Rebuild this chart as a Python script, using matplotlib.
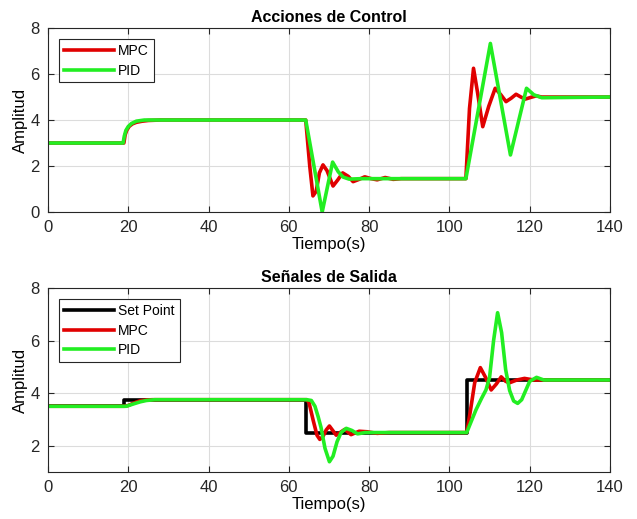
import numpy as np
import matplotlib.pyplot as plt

plt.rcParams['font.family'] = ['Liberation Sans', 'DejaVu Sans']

# ---- Acciones de Control (senal de control) ----
t_u_mpc = [0, 18.9, 19.2, 19.6, 20.2, 21, 22, 23.5, 25, 28, 64.2, 65.2, 66, 66.8, 67.6, 68.5,
           69.5, 71, 72.2, 73.4, 74.8, 76, 77.5, 78.9, 80.5, 82, 84, 86, 88, 104.1, 105, 106,
           107, 108.3, 109.8, 111.4, 112.8, 114.1, 115.4, 116.6, 117.8, 118.9, 120.2, 121.6, 123, 140]
u_mpc = [3, 3, 3.35, 3.55, 3.72, 3.83, 3.9, 3.95, 3.98, 4.0, 4.0, 2.0, 0.7, 0.9, 1.7, 2.05,
         1.8, 1.13, 1.4, 1.7, 1.55, 1.32, 1.42, 1.53, 1.45, 1.4, 1.5, 1.42, 1.45, 1.45, 4.5, 6.25,
         5.2, 3.71, 4.6, 5.38, 5.1, 4.8, 4.95, 5.12, 5.0, 4.91, 4.98, 5.05, 5.0, 5.0]

t_u_pid = [0, 18.7, 19.0, 19.4, 20.0, 20.8, 22, 24, 26, 64.2, 68.3, 70.9, 72.3, 73.5, 75,
           78, 104.1, 110.2, 115.2, 119.2, 121, 123, 140]
u_pid = [3, 3, 3.3, 3.55, 3.72, 3.85, 3.95, 4.0, 4.0, 4.0, 0.0, 2.17, 1.75, 1.52, 1.43,
         1.45, 1.45, 7.33, 2.48, 5.38, 5.1, 4.97, 5.0]

# ---- Senales de Salida ----
t_sp = [0, 19, 19, 64.2, 64.2, 104.3, 104.3, 140]
y_sp = [3.5, 3.5, 3.75, 3.75, 2.5, 2.5, 4.5, 4.5]

t_y_mpc = [0, 19, 20, 21, 22, 23, 24.5, 26, 28, 64.4, 65, 66, 67, 67.7, 68.5, 69.3, 70.1,
           71.8, 73.9, 75.5, 77.5, 79.5, 82, 85, 104.3, 105.2, 106.3, 107.7, 109, 110.4,
           111.7, 112.9, 114, 114.9, 116.8, 118.7, 121, 140]
y_mpc = [3.5, 3.5, 3.53, 3.6, 3.66, 3.71, 3.74, 3.75, 3.75, 3.75, 3.65, 3.0, 2.4, 2.24, 2.35,
         2.6, 2.75, 2.4, 2.62, 2.42, 2.55, 2.53, 2.47, 2.5, 2.5, 3.3, 4.4, 4.97, 4.6, 4.12,
         4.35, 4.62, 4.45, 4.39, 4.5, 4.56, 4.5, 4.5]

t_y_pid = [0, 19.5, 20.5, 21.5, 23, 24.5, 26.6, 28, 64.5, 65.6, 66.5, 67.3, 68, 69, 70.1,
           71, 72, 73, 74.3, 75.7, 77.1, 79, 104.3, 105.5, 106.6, 108, 109.1, 110, 111, 112,
           113, 114, 115, 116, 117, 118, 119, 120, 121.7, 123.5, 125, 140]
y_pid = [3.5, 3.5, 3.55, 3.6, 3.67, 3.72, 3.75, 3.75, 3.75, 3.72, 3.5, 3.1, 2.7, 1.9, 1.39,
         1.6, 2.15, 2.5, 2.66, 2.58, 2.45, 2.5, 2.5, 2.95, 3.36, 3.8, 4.12, 4.6, 6.0, 7.06,
         6.3, 4.9, 4.1, 3.7, 3.61, 3.75, 4.1, 4.45, 4.6, 4.5, 4.5, 4.5]

red = '#e00000'
green = '#22ee22'
lw = 2.6

fig = plt.figure(figsize=(6.37, 5.19), dpi=100)
ax1 = fig.add_axes([0.0754, 0.5915, 0.8822, 0.3545])
ax2 = fig.add_axes([0.0754, 0.0906, 0.8822, 0.3545])

def style(ax, ylim, yticks, title):
    ax.set_xlim(0, 140)
    ax.set_ylim(*ylim)
    ax.set_xticks(np.arange(0, 141, 20))
    ax.set_yticks(yticks)
    ax.grid(True, color='#dcdcdc', linewidth=0.8)
    ax.set_axisbelow(True)
    ax.tick_params(direction='in', top=True, right=True, labelsize=12,
                   colors='#262626', length=4, pad=6)
    for s in ax.spines.values():
        s.set_color('#262626')
        s.set_linewidth(0.8)
    ax.set_title(title, fontsize=11.5, fontweight='bold', pad=4)
    ax.set_xlabel('Tiempo(s)', fontsize=12, labelpad=1)
    ax.set_ylabel('Amplitud', fontsize=12, labelpad=2)

ax1.plot(t_u_mpc, u_mpc, color=red, lw=lw, label='MPC')
ax1.plot(t_u_pid, u_pid, color=green, lw=lw, label='PID')
style(ax1, (0, 8), [0, 2, 4, 6, 8], 'Acciones de Control')

ax2.plot(t_sp, y_sp, color='black', lw=lw, label='Set Point')
ax2.plot(t_y_mpc, y_mpc, color=red, lw=lw, label='MPC')
ax2.plot(t_y_pid, y_pid, color=green, lw=lw, label='PID')
style(ax2, (1, 8), [2, 4, 6, 8], 'Señales de Salida')

for ax in (ax1, ax2):
    leg = ax.legend(loc='upper left', fontsize=10, fancybox=False, framealpha=1,
                    edgecolor='#262626', handlelength=3.6, borderaxespad=0.8,
                    labelspacing=0.4, handletextpad=0.3, borderpad=0.35)
    leg.get_frame().set_linewidth(0.8)

fig.savefig('out.png', dpi=100)
